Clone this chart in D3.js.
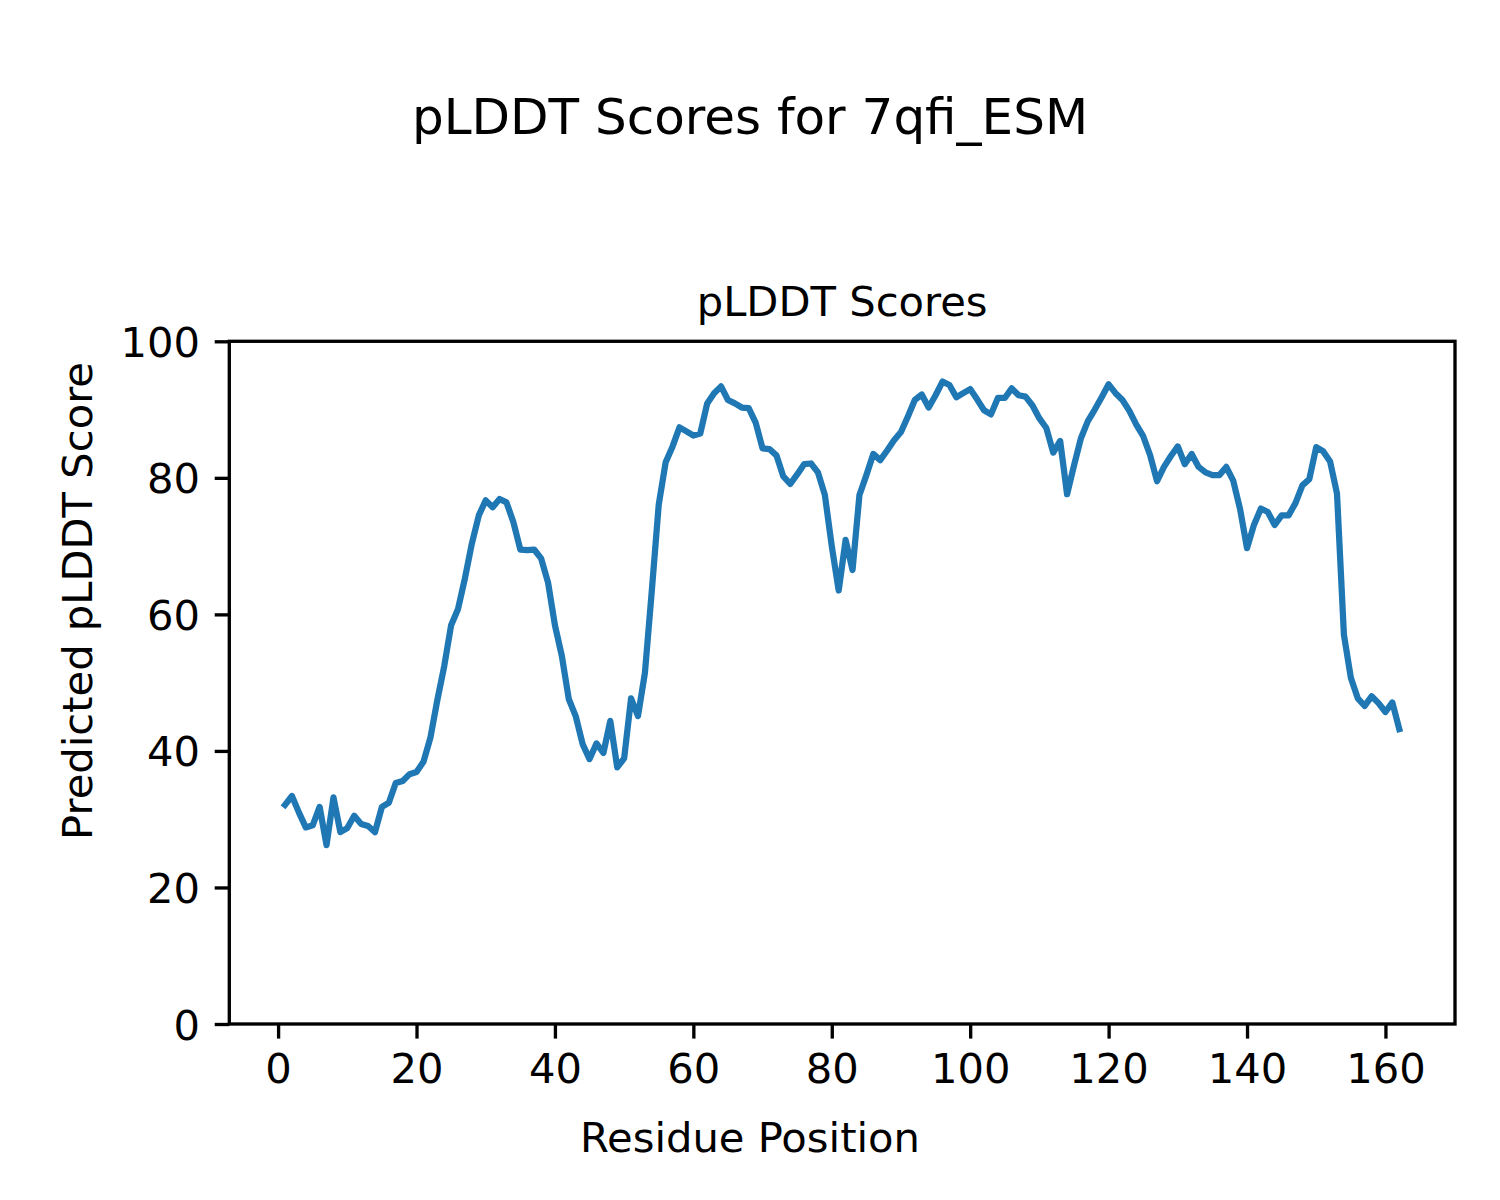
<!DOCTYPE html>
<html>
<head>
<meta charset="utf-8">
<script src="https://cdn.jsdelivr.net/npm/d3@7"></script>
<style>
  html, body { margin: 0; padding: 0; background: #fff; }
  text { font-family: "DejaVu Sans", sans-serif; fill: #000; }
</style>
</head>
<body>
<svg id="chart" width="1500" height="1200"></svg>
<script>
// ---- Data ----
const residues = d3.range(1, 163);
const plddt = [
  32.1, 33.4, 31.0, 28.8, 29.1, 31.8, 26.2, 33.2, 28.1, 28.7,
  30.5, 29.3, 29.0, 28.1, 31.8, 32.4, 35.3, 35.6, 36.6, 36.9,
  38.4, 41.9, 47.4, 52.4, 58.4, 60.8, 65.3, 70.4, 74.5, 76.7,
  75.7, 76.9, 76.4, 73.5, 69.5, 69.4, 69.5, 68.2, 64.7, 58.4,
  53.9, 47.6, 45.1, 41.0, 38.8, 41.1, 39.7, 44.4, 37.6, 38.9,
  47.7, 45.1, 51.4, 63.5, 76.1, 82.3, 84.6, 87.4, 86.8, 86.2,
  86.5, 90.9, 92.4, 93.4, 91.4, 90.9, 90.3, 90.2, 88.1, 84.3,
  84.2, 83.3, 80.2, 79.1, 80.5, 82.0, 82.1, 80.8, 77.5, 70.0,
  63.5, 70.9, 66.5, 77.5, 80.4, 83.5, 82.6, 84.0, 85.5, 86.7,
  89.0, 91.4, 92.2, 90.3, 92.1, 94.1, 93.6, 91.8, 92.4, 93.0,
  91.5, 89.9, 89.3, 91.7, 91.7, 93.1, 92.1, 91.9, 90.6, 88.7,
  87.3, 83.7, 85.4, 77.6, 81.8, 85.8, 88.3, 90.0, 91.8, 93.7,
  92.4, 91.4, 89.8, 87.8, 86.1, 83.3, 79.5, 81.6, 83.2, 84.6,
  82.0, 83.5, 81.6, 80.8, 80.4, 80.4, 81.6, 79.6, 75.4, 69.7,
  73.1, 75.5, 75.0, 73.1, 74.5, 74.5, 76.3, 78.9, 79.8, 84.5,
  83.9, 82.4, 77.7, 57.0, 50.7, 47.7, 46.6, 48.0, 47.0, 45.7,
  47.1, 43.2
];
const xTicks = [0, 20, 40, 60, 80, 100, 120, 140, 160];
const yTicks = [0, 20, 40, 60, 80, 100];
const supTitle = "pLDDT Scores for 7qfi_ESM";
const axTitle = "pLDDT Scores";
const xLabel = "Residue Position";
const yLabel = "Predicted pLDDT Score";

(function () {
  // ---- Layout ----
  const W = 1500, H = 1200;
  const mLeft = 229.3, mRight = 1455, mTop = 341.3, mBottom = 1024;
  const lw = 3.33;      // spine/tick width
  const tickLen = 14.6; // tick length
  const pad = 14.6;

  const svg = d3.select("#chart");
  svg.append("rect").attr("width", W).attr("height", H).attr("fill", "#fff");

  const xMin = 1, xMax = 162, span = xMax - xMin;
  const x = d3.scaleLinear().domain([xMin - 0.05 * span, xMax + 0.05 * span]).range([mLeft, mRight]);
  const y = d3.scaleLinear().domain([0, 100]).range([mBottom, mTop]);

  // line
  const line = d3.line().x((d, i) => x(residues[i])).y(d => y(d));
  svg.append("path")
    .datum(plddt)
    .attr("d", line)
    .attr("fill", "none")
    .attr("stroke", "#1f77b4")
    .attr("stroke-width", 6.25)
    .attr("stroke-linejoin", "round")
    .attr("stroke-linecap", "square");

  // X axis
  const xAxis = d3.axisBottom(x).tickValues(xTicks).tickSize(tickLen).tickPadding(pad).tickFormat(d3.format("d"));
  const gx = svg.append("g").attr("transform", `translate(0,${mBottom})`).call(xAxis);
  gx.select(".domain").remove();
  gx.selectAll(".tick line").attr("stroke", "#000").attr("stroke-width", lw);
  gx.selectAll(".tick text")
    .attr("font-size", 41.67)
    .attr("font-family", "DejaVu Sans")
    .attr("fill", "#000")
    .attr("dy", null)
    .attr("y", 59);

  // Y axis
  const yAxis = d3.axisLeft(y).tickValues(yTicks).tickSize(tickLen).tickPadding(pad).tickFormat(d3.format("d"));
  const gy = svg.append("g").attr("transform", `translate(${mLeft},0)`).call(yAxis);
  gy.select(".domain").remove();
  gy.selectAll(".tick line").attr("stroke", "#000").attr("stroke-width", lw);
  gy.selectAll(".tick text")
    .attr("font-size", 41.67)
    .attr("font-family", "DejaVu Sans")
    .attr("fill", "#000")
    .attr("dy", "0.36em")
    .attr("x", -(tickLen + pad));

  // Spines
  svg.append("rect")
    .attr("x", mLeft).attr("y", mTop)
    .attr("width", mRight - mLeft).attr("height", mBottom - mTop)
    .attr("fill", "none").attr("stroke", "#000").attr("stroke-width", lw);

  // Titles & labels
  svg.append("text").attr("x", 750).attr("y", 134)
    .attr("text-anchor", "middle").attr("font-size", 50).text(supTitle);
  svg.append("text").attr("x", (mLeft + mRight) / 2).attr("y", 316)
    .attr("text-anchor", "middle").attr("font-size", 41.67).text(axTitle);
  svg.append("text").attr("x", 750).attr("y", 1152)
    .attr("text-anchor", "middle").attr("font-size", 41.67).text(xLabel);
  svg.append("text")
    .attr("transform", "translate(92,601) rotate(-90)")
    .attr("text-anchor", "middle").attr("font-size", 41.67).text(yLabel);
})();
</script>
</body>
</html>
